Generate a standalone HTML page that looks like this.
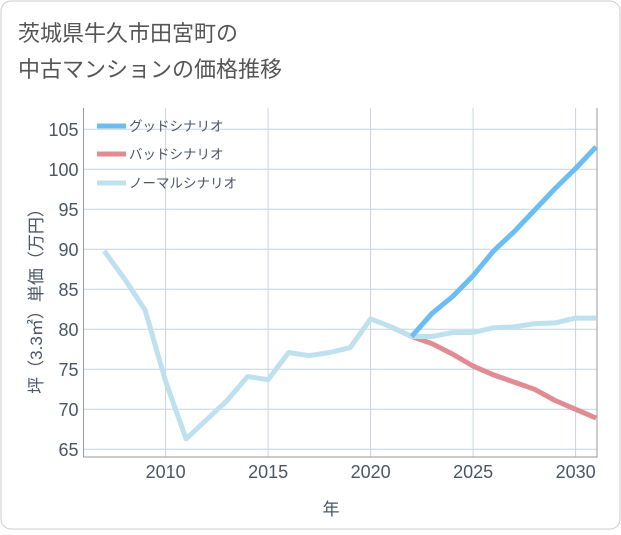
<!DOCTYPE html>
<html><head><meta charset="utf-8"><style>
body{margin:0;background:#fff;}
svg text{font-family:"Liberation Sans","Noto Sans CJK JP",sans-serif;}
</style></head><body>
<svg width="621" height="530" xmlns="http://www.w3.org/2000/svg">
<rect x="1" y="1" width="619" height="528" rx="10" fill="#fff" stroke="#ccc"/>
<text x="18" y="41" font-size="22" fill="#555">茨城県牛久市田宮町の</text>
<text x="18" y="77" font-size="22" fill="#555">中古マンションの価格推移</text>
<g id="grid"></g>
<g id="series"></g>
<g id="legend"></g>
<text x="331" y="515" font-size="17" fill="#4a5666" text-anchor="middle">年</text>
<text transform="translate(42,297) rotate(-90)" font-size="17" fill="#4a5666" text-anchor="middle">坪（3.3㎡）単価（万円）</text>
</svg>
<script>
const years=[2007,2008,2009,2010,2011,2012,2013,2014,2015,2016,2017,2018,2019,2020,2021,2022,2023,2024,2025,2026,2027,2028,2029,2030,2031];
const normal=[89.8,86.3,82.4,73.5,66.3,68.7,71.1,74.1,73.7,77.1,76.7,77.1,77.7,81.3,80.3,79.1,79.1,79.6,79.6,80.2,80.3,80.7,80.8,81.4,81.4];
const goodYears=[2022,2023,2024,2025,2026,2027,2028,2029,2030,2031];
const good=[79.1,82.0,84.1,86.7,89.8,92.2,94.9,97.6,100.1,102.8];
const badYears=[2021,2022,2023,2024,2025,2026,2027,2028,2029,2030,2031];
const bad=[80.3,79.1,78.2,76.9,75.4,74.3,73.4,72.5,71.1,70.0,68.9];
const xTicks=[2010,2015,2020,2025,2030];
const yTicks=[65,70,75,80,85,90,95,100,105];
const NS='http://www.w3.org/2000/svg';
const L=83.5,R=597,T=108,B=457;
const x=y=>165.6+(y-2010)*20.5;
const yv=v=>449.3-(v-65)*8.0;
function mk(t,a,p){const e=document.createElementNS(NS,t);for(const k in a)e.setAttribute(k,a[k]);p.appendChild(e);return e;}
const g=document.getElementById('grid');
yTicks.forEach(v=>{
const l=mk('line',{x1:L,x2:R,y1:yv(v),y2:yv(v),stroke:'#c8d4e0'},g);


const t=mk('text',{x:L-5,y:yv(v)+6.5,'font-size':18,fill:'#4a5666','text-anchor':'end'},g);t.textContent=v;


});
xTicks.forEach(v=>{
const l=mk('line',{x1:x(v),x2:x(v),y1:T,y2:B,stroke:'#c8d4e0'},g);


const t=mk('text',{x:x(v),y:478,'font-size':18,fill:'#4a5666','text-anchor':'middle'},g);t.textContent=v;


});
const ax=mk('path',{d:`M${L},${T}V${B}H${R}V${T}`,fill:'none',stroke:'#999'},g);


const s=document.getElementById('series');
function line(xs,vs,c,n){const p=mk('polyline',{points:xs.map((a,i)=>x(a)+','+yv(vs[i])).join(' '),fill:'none',stroke:c,'stroke-width':5,'stroke-linejoin':'round'},s);

}
line(badYears,bad,'#e08c92','bad-scenario-line');
line(years,normal,'#bfe0ef','normal-scenario-line');
line(goodYears,good,'#6bbdf2','good-scenario-line');
const lg=document.getElementById('legend');
[['グッドシナリオ','#6bbdf2',126],['バッドシナリオ','#e08c92',154],['ノーマルシナリオ','#bfe0ef',183]].forEach(([n,c,yy])=>{
const l=mk('line',{x1:97,x2:126,y1:yy,y2:yy,stroke:c,'stroke-width':5},lg);


const t=mk('text',{x:129,y:yy+5,'font-size':13.5,fill:'#4a5666'},lg);t.textContent=n;


});
</script>
</body></html>
